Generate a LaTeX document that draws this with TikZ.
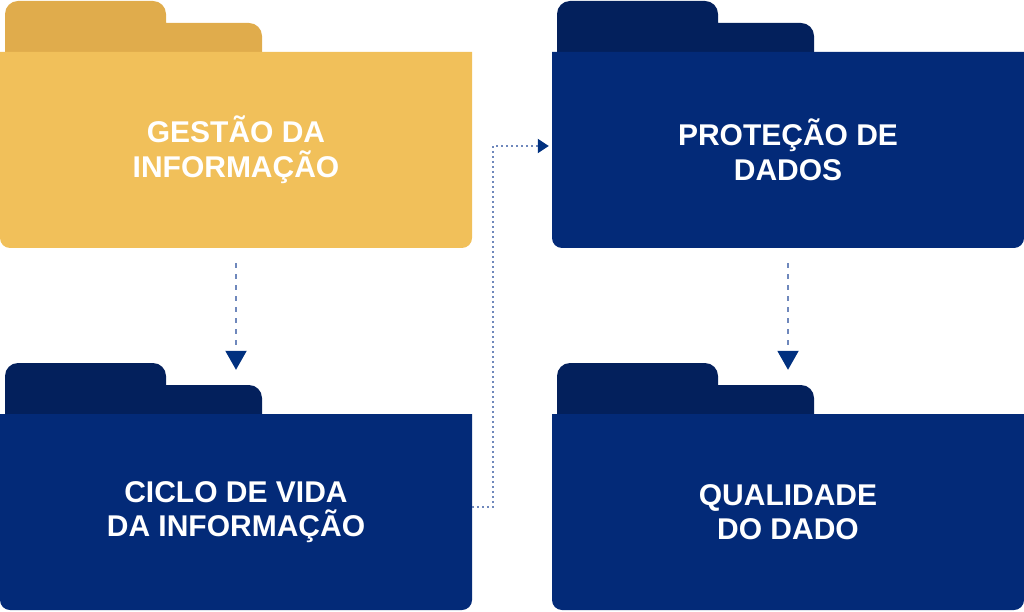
\documentclass[tikz,border=0pt]{standalone}
\usepackage{fontspec}
\setmainfont{Liberation Sans}
\usetikzlibrary{arrows.meta,positioning}
\definecolor{amarelo}{HTML}{F1C05A}
\definecolor{amareloaba}{HTML}{E0AC4C}
\definecolor{azul}{HTML}{032A78}
\definecolor{azulaba}{HTML}{03205C}
\definecolor{azulseta}{HTML}{00307F}
\definecolor{azullinha}{HTML}{6F88BC}

% pasta: nome, canto inferior esquerdo, cor do corpo, cor da aba, texto
\newcommand{\pasta}[5]{%
    \begin{scope}[shift={#2}]
        \fill[#4] (5,196) -- (5,234) arc[start angle=180,end angle=90,radius=13pt]
            -- (153,247) arc[start angle=90,end angle=0,radius=13pt]
            -- (166,225) -- (249,225) arc[start angle=90,end angle=0,radius=13pt]
            -- (262,196) -- cycle;
        \fill[#3] (0,196) -- (0,10) arc[start angle=180,end angle=270,radius=10pt]
            -- (462,0) arc[start angle=270,end angle=360,radius=10pt]
            -- (472,196) -- cycle;
        \node[pastatexto] (#1) at (236,98) {#5};
    \end{scope}}

\begin{document}
\begin{tikzpicture}[x=1pt,y=1pt,
    pastatexto/.style={minimum width=472pt,minimum height=196pt,inner sep=0pt,
        align=center,text=white,font=\bfseries\fontsize{30}{34.5}\selectfont}]
    \useasboundingbox (0,0) rectangle (1024,611);

    \pasta{gestao}{(0,363)}{amarelo}{amareloaba}{GESTÃO DA\\INFORMAÇÃO}
    \pasta{protecao}{(552,363)}{azul}{azulaba}{PROTEÇÃO DE\\DADOS}
    \pasta{ciclo}{(0,1)}{azul}{azulaba}{CICLO DE VIDA\\DA INFORMAÇÃO}
    \pasta{qualidade}{(552,1)}{azul}{azulaba}{QUALIDADE\\DO DADO}

    \begin{scope}[every path/.style={line width=2pt,draw=azullinha}]
        \draw[dash pattern=on 5pt off 6pt,shorten <=15pt,shorten >=44pt,
            -{Triangle[width=21pt,length=19pt,color=azulseta]}] (gestao.south) -- (ciclo.north);
        \draw[dash pattern=on 5pt off 6pt,shorten <=15pt,shorten >=44pt,
            -{Triangle[width=21pt,length=19pt,color=azulseta]}] (protecao.south) -- (qualidade.north);
        \draw[dash pattern=on 2pt off 3pt,shorten >=3pt,
            -{Triangle[width=14pt,length=11pt,color=azulseta]}]
            ([yshift=5pt]ciclo.east) -- ++(21,0) |- ([yshift=4pt]protecao.west);
    \end{scope}
\end{tikzpicture}
\end{document}
